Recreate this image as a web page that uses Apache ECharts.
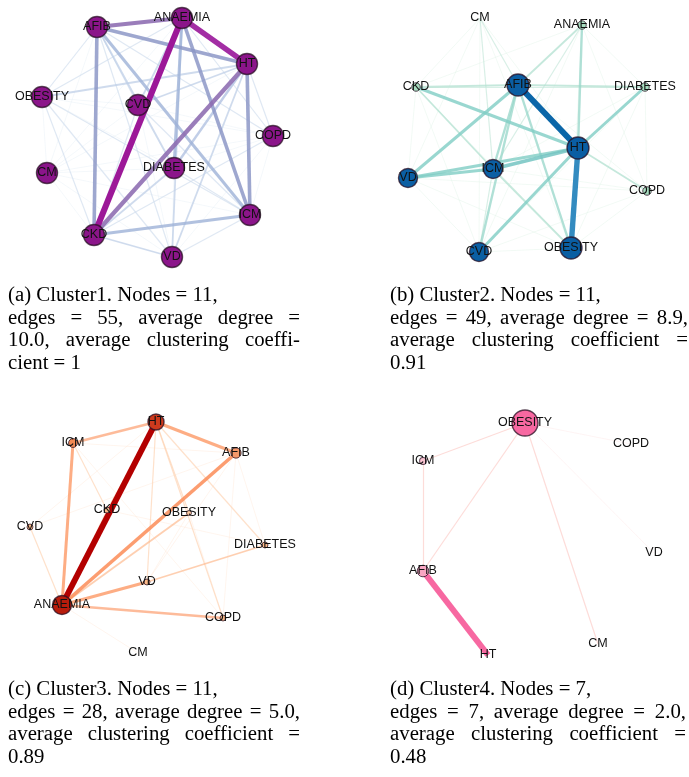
<!DOCTYPE html>
<html>
<head>
<meta charset="utf-8">
<script src="https://cdn.jsdelivr.net/npm/echarts@6/dist/echarts.min.js"></script>
<style>
  html, body { margin: 0; padding: 0; background: #fff; }
  #wrap { position: relative; width: 689px; height: 777px; overflow: hidden; }
  #chart { position: absolute; left: 0; top: 0; width: 689px; height: 777px; }
  .cap { position: absolute; font-family: 'Liberation Serif', 'Times New Roman', serif;
         font-size: 20.8px; color: #000; }
  .cap div { height: 22.5px; line-height: 22.5px; white-space: nowrap; }
  .cap div.j { text-align: justify; text-align-last: justify; white-space: normal; }
</style>
</head>
<body>
<div id="wrap">
  <div id="chart"></div>
</div>
<script>
// ---- cluster 1 ----
const namesA = ['AFIB', 'ANAEMIA', 'HT', 'OBESITY', 'CVD', 'COPD', 'CM', 'DIABETES', 'ICM', 'CKD', 'VD'];
const xA = [97, 182, 247, 42, 138, 273, 47, 174, 250, 94, 172];
const yA = [27, 18, 64, 97, 105, 136, 173, 168, 215, 235, 257];
const strengthA = [10, 10, 10, 10, 10, 10, 10, 10, 10, 10, 10];
const edgesA = [
  ['ANAEMIA', 'CKD', 10], ['ANAEMIA', 'HT', 9], ['HT', 'CKD', 7], ['AFIB', 'ANAEMIA', 7],
  ['AFIB', 'HT', 6], ['AFIB', 'CKD', 6], ['ANAEMIA', 'ICM', 6], ['HT', 'ICM', 6],
  ['CKD', 'ICM', 5], ['AFIB', 'ICM', 5], ['ANAEMIA', 'DIABETES', 5], ['HT', 'DIABETES', 4],
  ['HT', 'OBESITY', 3], ['HT', 'CVD', 3], ['HT', 'VD', 3], ['HT', 'COPD', 2], ['HT', 'CM', 1],
  ['ANAEMIA', 'OBESITY', 2], ['ANAEMIA', 'CVD', 3], ['ANAEMIA', 'COPD', 2], ['ANAEMIA', 'VD', 3], ['ANAEMIA', 'CM', 1],
  ['CKD', 'VD', 3], ['CKD', 'DIABETES', 3], ['CKD', 'CVD', 2], ['CKD', 'OBESITY', 2], ['CKD', 'COPD', 2], ['CKD', 'CM', 1],
  ['AFIB', 'OBESITY', 2], ['AFIB', 'CVD', 2], ['AFIB', 'DIABETES', 3], ['AFIB', 'VD', 2], ['AFIB', 'COPD', 2], ['AFIB', 'CM', 1],
  ['ICM', 'OBESITY', 2], ['ICM', 'CVD', 2], ['ICM', 'DIABETES', 2], ['ICM', 'VD', 2], ['ICM', 'COPD', 1], ['ICM', 'CM', 1],
  ['OBESITY', 'CVD', 1], ['OBESITY', 'COPD', 1], ['OBESITY', 'CM', 1], ['OBESITY', 'DIABETES', 1], ['OBESITY', 'VD', 2],
  ['CVD', 'COPD', 1], ['CVD', 'CM', 1], ['CVD', 'DIABETES', 1], ['CVD', 'VD', 1],
  ['COPD', 'CM', 1], ['COPD', 'DIABETES', 1], ['COPD', 'VD', 1],
  ['CM', 'DIABETES', 1], ['CM', 'VD', 1], ['DIABETES', 'VD', 1]
];

// ---- cluster 2 ----
const namesB = ['CM', 'ANAEMIA', 'AFIB', 'CKD', 'DIABETES', 'HT', 'ICM', 'VD', 'COPD', 'CVD', 'OBESITY'];
const xB = [140, 242, 178, 76, 305, 238, 153, 68, 307, 139, 231];
const yB = [18, 25, 85, 87, 87, 148, 169, 178, 191, 252, 248];
const strengthB = [0, 1, 10, 1, 1, 10, 8, 8, 1, 8, 10];
const edgesB = [
  ['AFIB', 'HT', 10], ['HT', 'OBESITY', 9], ['ICM', 'HT', 6], ['VD', 'HT', 5], ['VD', 'ICM', 5],
  ['CKD', 'HT', 5], ['AFIB', 'VD', 5], ['HT', 'CVD', 5], ['HT', 'DIABETES', 5],
  ['AFIB', 'OBESITY', 4], ['ANAEMIA', 'HT', 4], ['AFIB', 'ICM', 4], ['AFIB', 'CVD', 4],
  ['CKD', 'AFIB', 3], ['AFIB', 'DIABETES', 3], ['CKD', 'ICM', 3], ['ICM', 'OBESITY', 3], ['HT', 'COPD', 3], ['AFIB', 'ANAEMIA', 3],
  ['ANAEMIA', 'ICM', 2], ['CM', 'AFIB', 2], ['CM', 'ICM', 2], ['CM', 'CVD', 1], ['CM', 'HT', 1], ['CM', 'VD', 1], ['CM', 'CKD', 1], ['CM', 'OBESITY', 1],
  ['ANAEMIA', 'CKD', 1], ['ANAEMIA', 'DIABETES', 1], ['ANAEMIA', 'OBESITY', 1], ['ANAEMIA', 'CVD', 1], ['ANAEMIA', 'COPD', 1],
  ['AFIB', 'COPD', 1], ['CKD', 'VD', 1], ['CKD', 'CVD', 1], ['CKD', 'OBESITY', 1],
  ['DIABETES', 'ICM', 1], ['DIABETES', 'OBESITY', 1], ['DIABETES', 'COPD', 1], ['DIABETES', 'CVD', 1],
  ['ICM', 'CVD', 2], ['ICM', 'COPD', 1],
  ['VD', 'CVD', 1], ['VD', 'OBESITY', 1], ['VD', 'COPD', 1],
  ['COPD', 'CVD', 1], ['COPD', 'OBESITY', 1], ['CVD', 'OBESITY', 1], ['CKD', 'DIABETES', 2]
];

// ---- cluster 3 ----
const namesC = ['HT', 'ICM', 'AFIB', 'CKD', 'OBESITY', 'CVD', 'DIABETES', 'VD', 'ANAEMIA', 'COPD', 'CM'];
const xC = [156, 73, 236, 107, 189, 30, 265, 147, 62, 223, 138];
const yC = [32, 53, 63, 120, 123, 137, 155, 192, 215, 228, 263];
const strengthC = [8, 3, 4, 1, 0.3, 1, 1, 1, 10, 1, 0];
const edgesC = [
  ['HT', 'ANAEMIA', 10], ['AFIB', 'ANAEMIA', 6], ['ICM', 'ANAEMIA', 5], ['HT', 'AFIB', 5],
  ['HT', 'ICM', 4], ['ANAEMIA', 'VD', 5], ['ANAEMIA', 'COPD', 4], ['VD', 'DIABETES', 3],
  ['ANAEMIA', 'OBESITY', 3], ['ANAEMIA', 'CVD', 2], ['ANAEMIA', 'CM', 1], ['HT', 'VD', 2],
  ['HT', 'OBESITY', 2], ['HT', 'COPD', 2], ['HT', 'DIABETES', 2], ['HT', 'CKD', 2],
  ['ICM', 'CKD', 2], ['ICM', 'COPD', 1], ['ICM', 'AFIB', 1], ['CVD', 'AFIB', 1],
  ['CVD', 'HT', 1], ['AFIB', 'COPD', 1], ['AFIB', 'DIABETES', 1], ['CKD', 'DIABETES', 1],
  ['OBESITY', 'VD', 1], ['OBESITY', 'COPD', 1], ['AFIB', 'VD', 1], ['ANAEMIA', 'CKD', 2]
];

// ---- cluster 4 ----
const namesD = ['OBESITY', 'COPD', 'ICM', 'VD', 'AFIB', 'CM', 'HT'];
const xD = [185, 291, 83, 314, 83, 258, 148];
const yD = [33, 54, 71, 163, 181, 254, 265];
const strengthD = [10, 0, 2, 0, 4, 0, 0];
const edgesD = [
  ['AFIB', 'HT', 10], ['OBESITY', 'AFIB', 2], ['OBESITY', 'ICM', 2], ['OBESITY', 'CM', 2],
  ['ICM', 'AFIB', 2], ['OBESITY', 'VD', 1], ['OBESITY', 'COPD', 1]
];

const captions = [
  { left: 8, top: 283, width: 292, lines: ['(a) Cluster1. Nodes = 11,', 'edges = 55, average degree =', '10.0, average clustering coeffi-', 'cient = 1'] },
  { left: 390, top: 283, width: 298, lines: ['(b) Cluster2. Nodes = 11,', 'edges = 49, average degree = 8.9,', 'average clustering coefficient =', '0.91'] },
  { left: 8, top: 677, width: 292, lines: ['(c) Cluster3. Nodes = 11,', 'edges = 28, average degree = 5.0,', 'average clustering coefficient =', '0.89'] },
  { left: 390, top: 677, width: 296, lines: ['(d) Cluster4. Nodes = 7,', 'edges = 7, average degree = 2.0,', 'average clustering coefficient =', '0.48'] }
];

// colour ramps, [weight, colour]
const rampEdgeA = [[1, '#e3ecf5'], [3, '#bccde6'], [5, '#9eb1d7'], [6, '#8c96c6'], [7, '#8c6bb1'], [8, '#9447a8'], [9, '#9f24a0'], [10, '#9c1898']];
const rampEdgeB = [[1, '#dcf1e5'], [3, '#aedfce'], [5, '#80cdc4'], [6, '#72c4c1'], [8, '#4aa6cc'], [9, '#2b86bd'], [10, '#0a66a8']];
const rampEdgeC = [[1, '#fee6d2'], [2, '#fdd3b3'], [3, '#fdbd93'], [4, '#fca67a'], [5, '#fc9865'], [6, '#fb8a55'], [8, '#d7301f'], [10, '#b30000']];
const rampEdgeD = [[1, '#fde3e1'], [2, '#fccbc7'], [10, '#f768a1']];
const rampNodeA = [[0, '#8b158a'], [10, '#8b158a']];
const rampNodeB = [[0, '#c8ead4'], [1, '#a8ddc0'], [8, '#0b5fa3'], [10, '#0a5ea3']];
const rampNodeC = [[0, '#fdd0a8'], [1, '#fdbb8a'], [3, '#f28a54'], [4, '#f5996a'], [8, '#cf3a1d'], [10, '#b81c0c']];
const rampNodeD = [[0, '#fde0e6'], [2, '#fcc5d3'], [4, '#f9a5c2'], [10, '#f768a1']];

function hex(c) { return [1, 3, 5].map(i => parseInt(c.substr(i, 2), 16)); }
function ramp(stops, v) {
  if (v <= stops[0][0]) return stops[0][1];
  for (let i = 1; i < stops.length; i++) {
    if (v <= stops[i][0]) {
      const t = (v - stops[i - 1][0]) / (stops[i][0] - stops[i - 1][0]);
      const a = hex(stops[i - 1][1]), b = hex(stops[i][1]);
      return 'rgb(' + a.map((x, k) => Math.round(x + (b[k] - x) * t)).join(',') + ')';
    }
  }
  return stops[stops.length - 1][1];
}

function graphSeries(idx, names, xs, ys, strength, edges, edgeRamp, nodeRamp, sizeFn) {
  const nodes = names.map((n, i) => ({
    name: n,
    value: [xs[i], ys[i]],
    symbolSize: sizeFn(strength[i]),
    itemStyle: {
      color: ramp(nodeRamp, strength[i]),
      borderColor: 'rgba(40,15,35,0.75)',
      borderWidth: strength[i] > 0 ? (strength[i] >= 8 ? 1.4 : 1) : 0
    }
  }));
  // draw light edges first, heavy ones on top
  const links = edges.slice().sort((p, q) => p[2] - q[2]).map(e => ({
    source: e[0],
    target: e[1],
    lineStyle: {
      color: ramp(edgeRamp, e[2]),
      width: 0.6 + 0.6 * (e[2] - 1),
      opacity: 0.6 + 0.04 * e[2],
      curveness: 0
    }
  }));
  return {
    type: 'graph',
    coordinateSystem: 'cartesian2d',
    xAxisIndex: idx,
    yAxisIndex: idx,
    symbol: 'circle',
    data: nodes,
    links: links,
    silent: true,
    label: {
      show: true,
      position: 'inside',
      color: '#111',
      fontSize: 12.5,
      fontFamily: 'Liberation Sans, Arial, sans-serif'
    },
    emphasis: { disabled: true }
  };
}

const panels = [
  { left: 0, top: 0, w: 330, h: 280 },
  { left: 340, top: 0, w: 349, h: 280 },
  { left: 0, top: 390, w: 330, h: 280 },
  { left: 340, top: 390, w: 349, h: 280 }
];

const chart = echarts.init(document.getElementById('chart'), null, { renderer: 'canvas' });
chart.setOption({
  backgroundColor: '#fff',
  animation: false,
  grid: panels.map(p => ({ left: p.left, top: p.top, width: p.w, height: p.h })),
  xAxis: panels.map((p, i) => ({ gridIndex: i, type: 'value', min: 0, max: p.w, show: false })),
  yAxis: panels.map((p, i) => ({ gridIndex: i, type: 'value', min: 0, max: p.h, inverse: true, show: false })),
  series: [
    graphSeries(0, namesA, xA, yA, strengthA, edgesA, rampEdgeA, rampNodeA, s => 21),
    graphSeries(1, namesB, xB, yB, strengthB, edgesB, rampEdgeB, rampNodeB, s => s > 0 ? 7 + 1.5 * s : 0),
    graphSeries(2, namesC, xC, yC, strengthC, edgesC, rampEdgeC, rampNodeC, s => s > 0 ? 4.5 + 1.45 * s : 0),
    graphSeries(3, namesD, xD, yD, strengthD, edgesD, rampEdgeD, rampNodeD, s => s > 0 ? 2 + 2.4 * s : 0)
  ]
});

// captions under each panel
const wrap = document.getElementById('wrap');
captions.forEach(c => {
  const box = document.createElement('div');
  box.className = 'cap';
  box.style.left = c.left + 'px';
  box.style.top = c.top + 'px';
  box.style.width = c.width + 'px';
  c.lines.forEach((t, i) => {
    const line = document.createElement('div');
    if (i === 1 || i === 2) line.className = 'j';
    line.textContent = t;
    box.appendChild(line);
  });
  wrap.appendChild(box);
});
</script>
</body>
</html>
